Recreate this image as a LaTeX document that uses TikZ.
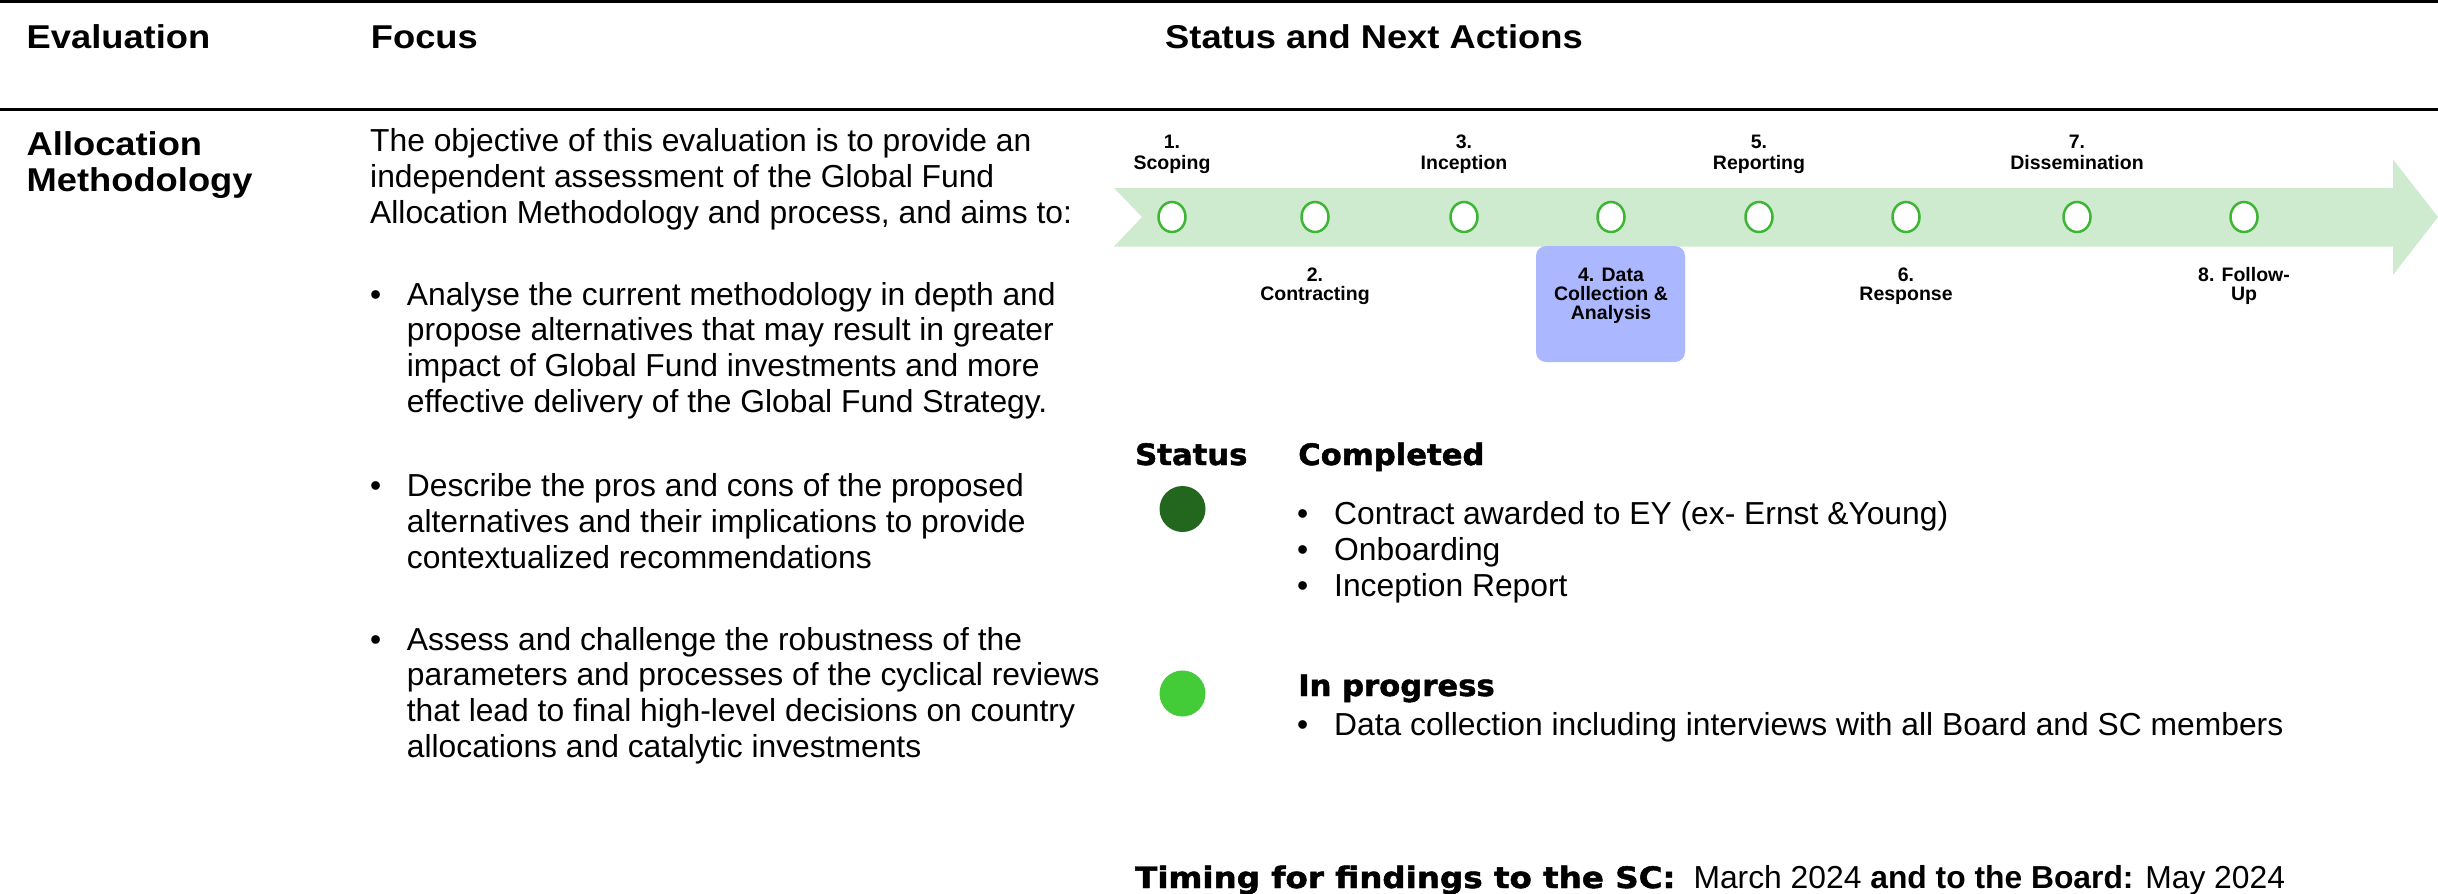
\documentclass[tikz,border=0pt]{standalone}
\usepackage{fontspec}
\usetikzlibrary{shapes.geometric}
\setmainfont{Liberation Sans}
\newfontfamily\hdrfam[FakeStretch=1.1]{Liberation Sans}
\newfontfamily\heavyfam[FakeStretch=1.04,BoldFeatures={FakeBold=1.6}]{DejaVu Sans}
\newcommand\bodyfont{\fontsize{31.8bp}{38bp}\selectfont}
\newcommand\hdrfont{\hdrfam\bfseries\fontsize{33bp}{40bp}\selectfont}
\newcommand\heavyfont{\heavyfam\bfseries\fontsize{29.5bp}{36bp}\selectfont}
\newcommand\lblfont{\bfseries\fontsize{19.5bp}{20bp}\selectfont}
\definecolor{arrowgreen}{RGB}{207,235,207}
\definecolor{ringgreen}{RGB}{60,182,52}
\definecolor{boxblue}{RGB}{171,184,255}
\definecolor{darkdot}{RGB}{35,102,30}
\definecolor{lightdot}{RGB}{68,204,56}
\tikzset{
  body/.style={font=\bodyfont, anchor=base west, inner sep=0pt},
  hdr/.style={font=\hdrfont, anchor=base west, inner sep=0pt},
  heavy/.style={font=\heavyfont, anchor=base west, inner sep=0pt},
  lbl/.style={font=\lblfont, anchor=base, inner sep=0pt},
  ring/.style={ellipse, draw=ringgreen, line width=2.5bp, fill=white, minimum width=27bp, minimum height=30bp, inner sep=0pt},
  dot/.style={circle, minimum size=46bp, inner sep=0pt},
  rule/.style={line width=2.8bp, black}
}
\begin{document}
\begin{tikzpicture}[x=1bp,y=-1bp]
\useasboundingbox (0,0) rectangle (2438,893);
\fill[white] (0,0) rectangle (2438,893);
% rules
\coordinate (r1a) at (0,1.4); \coordinate (r1b) at (2438,1.4);
\coordinate (r2a) at (0,109.5); \coordinate (r2b) at (2438,109.5);
\draw[rule] (r1a) -- (r1b);
\draw[rule] (r2a) -- (r2b);
% headers
\node[hdr] (hEval) at (26.5,48.3) {Evaluation};
\node[hdr] (hFocus) at (370.7,48.3) {Focus};
\node[hdr] (hStatus) at (1165,48.3) {Status and Next Actions};
\node[hdr] (eval1) at (26.5,155) {Allocation};
\node[hdr] (eval2) at (26.5,191) {Methodology};
% focus text
\node[body] (f0) at (370,151.7) {The objective of this evaluation is to provide an};
\node[body] (f1) at (370,187.5) {independent assessment of the Global Fund};
\node[body] (f2) at (370,223.3) {Allocation Methodology and process, and aims to:};
\node[body] (bu1) at (370,305) {•};
\node[body] (f4) at (406.7,305) {Analyse the current methodology in depth and};
\node[body] (f5) at (406.7,340.8) {propose alternatives that may result in greater};
\node[body] (f6) at (406.7,376.6) {impact of Global Fund investments and more};
\node[body] (f7) at (406.7,412.4) {effective delivery of the Global Fund Strategy.};
\node[body] (bu2) at (370,496.7) {•};
\node[body] (f9) at (406.7,496.7) {Describe the pros and cons of the proposed};
\node[body] (f10) at (406.7,532.5) {alternatives and their implications to provide};
\node[body] (f11) at (406.7,568.3) {contextualized recommendations};
\node[body] (bu3) at (370,650) {•};
\node[body] (f13) at (406.7,650) {Assess and challenge the robustness of the};
\node[body] (f14) at (406.7,685.8) {parameters and processes of the cyclical reviews};
\node[body] (f15) at (406.7,721.6) {that lead to final high-level decisions on country};
\node[body] (f16) at (406.7,757.4) {allocations and catalytic investments};
% timeline arrow
\fill[arrowgreen] (1114,188) -- (2393,188) -- (2393,159.5) -- (2438,217) -- (2393,275) -- (2393,246.5) -- (1114,246.5) -- (1142,217) -- cycle;
% highlighted box
\node[rounded corners=10bp, fill=boxblue, minimum width=149bp, minimum height=116bp, inner sep=0pt] (box4) at (1610.5,304) {};
% rings
\node[ring] (c1) at (1172,217) {};
\node[ring] (c2) at (1315,217) {};
\node[ring] (c3) at (1464,217) {};
\node[ring] (c4) at (1611,217) {};
\node[ring] (c5) at (1759,217) {};
\node[ring] (c6) at (1906,217) {};
\node[ring] (c7) at (2077,217) {};
\node[ring] (c8) at (2244,217) {};
% labels above
\node[lbl] (l1a) at (1172,148.5) {1.};
\node[lbl] (l1b) at (1172,169) {Scoping};
\node[lbl] (l3a) at (1464,148.5) {3.};
\node[lbl] (l3b) at (1464,169) {Inception};
\node[lbl] (l5a) at (1759,148.5) {5.};
\node[lbl] (l5b) at (1759,169) {Reporting};
\node[lbl] (l7a) at (2077,148.5) {7.};
\node[lbl] (l7b) at (2077,169) {Dissemination};
% labels below
\node[lbl] (l2a) at (1315,281.5) {2.};
\node[lbl] (l2b) at (1315,300.5) {Contracting};
\node[lbl] (l4a) at (1611,281.5) {4. Data};
\node[lbl] (l4b) at (1611,300.5) {Collection \&};
\node[lbl] (l4c) at (1611,319.5) {Analysis};
\node[lbl] (l6a) at (1906,281.5) {6.};
\node[lbl] (l6b) at (1906,300.5) {Response};
\node[lbl] (l8a) at (2244,281.5) {8. Follow-};
\node[lbl] (l8b) at (2244,300.5) {Up};
% status
\node[heavy] (sStatus) at (1135,465) {Status};
\node[heavy] (sDone) at (1298,465) {Completed};
\node[dot, fill=darkdot] (dDone) at (1182.5,509) {};
\node[body] (sb1) at (1297,524.4) {•};
\node[body] (st1) at (1334,524.4) {Contract awarded to EY (ex- Ernst \&Young)};
\node[body] (sb2) at (1297,560.2) {•};
\node[body] (st2) at (1334,560.2) {Onboarding};
\node[body] (sb3) at (1297,596) {•};
\node[body] (st3) at (1334,596) {Inception Report};
\node[dot, fill=lightdot] (dProg) at (1182.5,693.5) {};
\node[heavy] (sProg) at (1298,696) {In progress};
\node[body] (sb4) at (1297,735) {•};
\node[body] (st4) at (1334,735) {Data collection including interviews with all Board and SC members};
% timing
\node[body] (timing) at (1135,888) {\scalebox{1.06}[1]{\heavyfont Timing for findings to the SC:}\hspace{18bp}March 2024 \textbf{and to the Board:} May 2024};
\end{tikzpicture}
\end{document}
